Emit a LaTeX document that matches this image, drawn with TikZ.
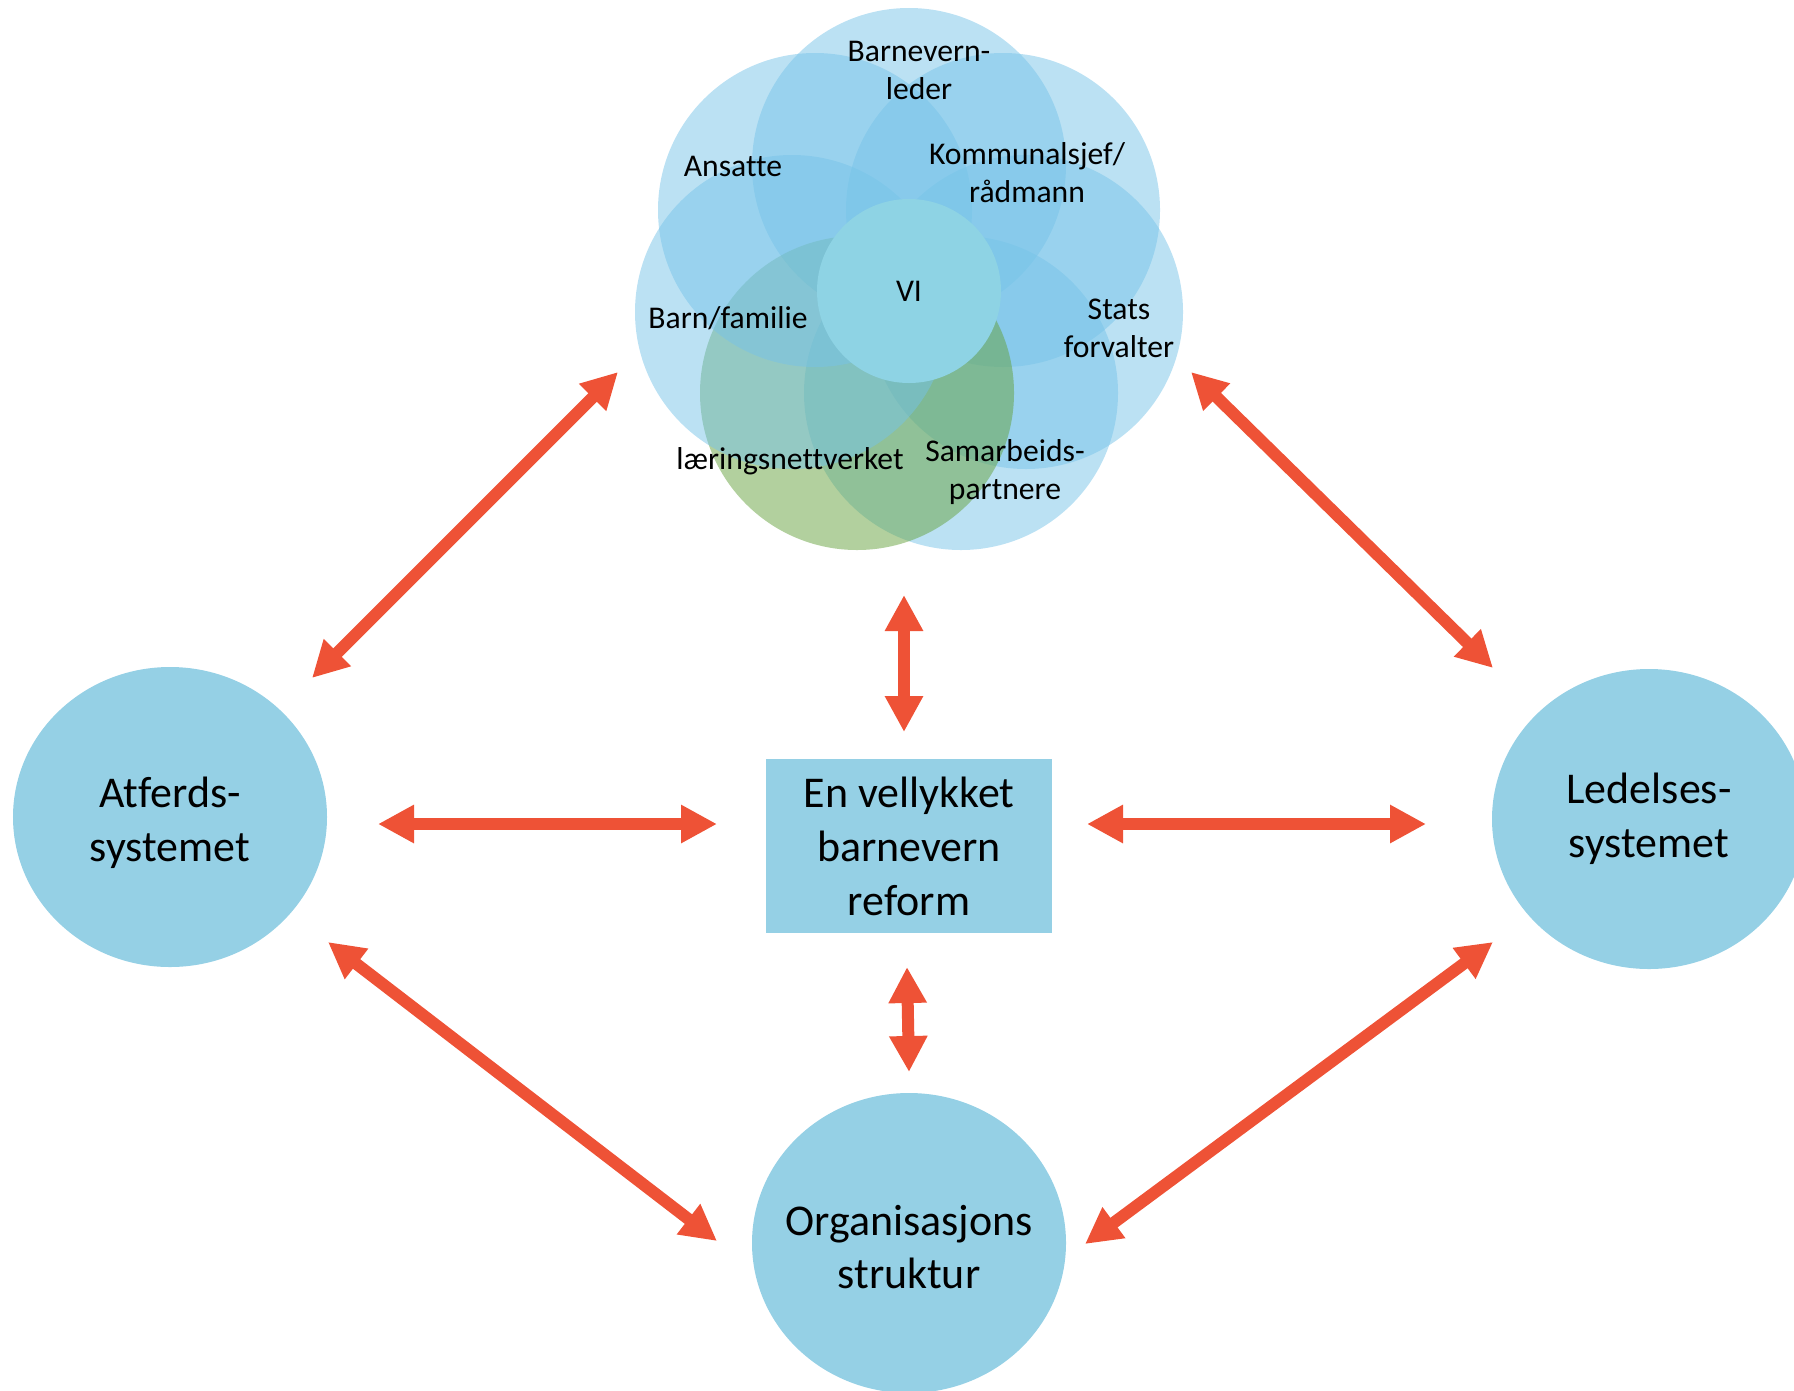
\documentclass[tikz,border=0pt]{standalone}
\usepackage{fontspec}
\setmainfont[Ligatures=NoCommon]{Carlito}
\usetikzlibrary{arrows.meta,shapes.geometric}
\definecolor{sysblue}{RGB}{149,208,229}
\definecolor{ringblue}{RGB}{119,195,232}
\definecolor{ringgreen}{RGB}{101,161,61}
\definecolor{viblue}{RGB}{142,211,228}
\definecolor{arred}{RGB}{238,82,54}
\newcommand\sysfont{\fontsize{25}{30.7}\selectfont}
\newcommand\ringfont{\fontsize{18}{21.6}\selectfont}
\tikzset{
  sys/.style    ={ellipse, fill=sysblue, minimum width=62.8mm, minimum height=60mm,
                  inner sep=0pt},
  systxt/.style ={align=center, font=\sysfont, inner sep=0pt},
  goal/.style   ={rectangle, fill=sysblue, minimum width=57.2mm, minimum height=34.8mm,
                  inner sep=0pt, align=center, font=\sysfont},
  ring/.style   ={circle, fill=ringblue, fill opacity=0.5, minimum size=62.8mm, inner sep=0pt},
  greenring/.style={ring, fill=ringgreen},
  vi/.style     ={circle, fill=viblue, minimum size=36.8mm, inner sep=0pt, font=\ringfont},
  lbl/.style    ={align=center, font=\ringfont, inner sep=0pt},
  biar/.style   ={{Triangle[length=7.2mm,width=7.2mm]}-{Triangle[length=7.2mm,width=7.2mm]},
                  draw=arred, line width=2.4mm},
}

\begin{document}
\begin{tikzpicture}[x=0.2mm, y=-0.2mm]
\useasboundingbox (0,0) rectangle (1794,1390);

% ---- the flower of actors ----
\node[ring] (cBarnevern) at (909,165) {};
\node[ring] (cKommunal) at (1003,210) {};
\node[ring] (cStats) at (1026,312) {};
\node[ring] (cSamarb) at (961,393) {};
\node[greenring] (cLaering) at (857,393) {};
\node[ring] (cBarn) at (792,312) {};
\node[ring] (cAnsatte) at (815,210) {};
\node[vi] (vi) at (909,291) {VI};

\node[lbl] (lBarnevern) at (919,70) {Barnevern-\\leder};
\node[lbl] (lAnsatte) at (733,166) {Ansatte};
\node[lbl] (lKommunal) at (1027,173) {Kommunalsjef/\\rådmann};
\node[lbl] (lBarn) at (728,318) {Barn/familie};
\node[lbl] (lStats) at (1119,328) {Stats\\forvalter};
\node[lbl] (lLaering) at (790,461) {læringsnettverket};
\node[lbl] (lSamarb) at (1005,472) {Samarbeids-\\partnere};

% ---- the three systems and the goal ----
\node[goal] (reform) at (909,846) {En vellykket\\barnevern\\reform};
\node[sys, label={[systxt, yshift=-1.2mm]center:{Atferds-\\systemet}}] (atferd) at (170,817) {};
\node[sys, label={[systxt]center:{Ledelses-\\systemet}}] (ledelse) at (1649,819) {};
\node[sys, label={[systxt, yshift=-0.8mm]center:{Organisasjons\\struktur}}] (org) at (909,1243) {};

% ---- arrow ends ----
\coordinate (aNW) at (312,678);   \coordinate (fNW) at (618,372);
\coordinate (fNE) at (1191,372);  \coordinate (lNE) at (1493,668);
\coordinate (aE) at (378,824);    \coordinate (rW) at (717,824);
\coordinate (rE) at (1087,824);   \coordinate (lW) at (1426,824);
\coordinate (fS) at (904,595);    \coordinate (rN) at (904,732);
\coordinate (rS) at (907,967);    \coordinate (oN) at (909,1072);
\coordinate (aSE) at (328,942);   \coordinate (oW) at (717,1241);
\coordinate (lSW) at (1493,942);  \coordinate (oE) at (1085,1244);

\draw[biar] (aNW) -- (fNW);
\draw[biar] (fNE) -- (lNE);
\draw[biar] (aE) -- (rW);
\draw[biar] (rE) -- (lW);
\draw[biar] (fS) -- (rN);
\draw[biar] (rS) -- (oN);
\draw[biar] (aSE) -- (oW);
\draw[biar] (lSW) -- (oE);

\end{tikzpicture}
\end{document}
